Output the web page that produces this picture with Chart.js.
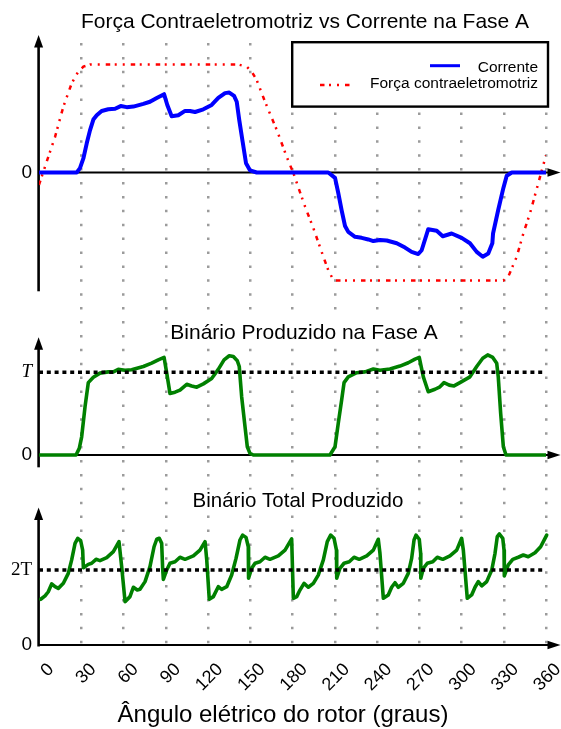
<!DOCTYPE html>
<html>
<head>
<meta charset="utf-8">
<script src="https://cdn.jsdelivr.net/npm/chart.js@4/dist/chart.umd.min.js"></script>
<style>
  html, body { margin: 0; padding: 0; background: #ffffff; }
  #wrap { position: relative; width: 561px; height: 729px; }
  canvas { display: block; }
</style>
</head>
<body>
<div id="wrap"><canvas id="c" width="561" height="729"></canvas></div>
<script>
// ---------------- data ----------------
const xTickValues = [0, 30, 60, 90, 120, 150, 180, 210, 240, 270, 300, 330, 360];

// Panel 1: phase A current (blue) and back-EMF (red), normalised units
const currentAngle = [0, 26.8, 29.1, 31.5, 33.9, 36.2, 38.6, 41.0, 44.5, 49.2, 54.0, 58.0, 62.3, 67.0, 74.1, 78.8, 83.6, 88.8, 91.1, 94.2, 98.9, 103.7, 107.2, 110.8, 116.7, 122.6, 127.3, 132.1, 135.1, 138.5, 140.4, 142.2, 144.6, 147.0, 149.8, 154.6, 205.4, 210.2, 212.5, 214.9, 217.3, 219.6, 224.4, 229.1, 233.8, 237.4, 242.1, 246.9, 254.0, 259.9, 264.6, 269.3, 271.7, 276.4, 282.4, 286.7, 293.0, 300.1, 306.0, 310.8, 315.1, 319.0, 321.9, 322.4, 326.1, 329.7, 332.1, 335.7, 360];
const currentValue = [0, 0, 0.04, 0.13, 0.27, 0.39, 0.49, 0.53, 0.57, 0.585, 0.59, 0.615, 0.605, 0.61, 0.635, 0.655, 0.69, 0.725, 0.625, 0.52, 0.53, 0.57, 0.57, 0.56, 0.585, 0.625, 0.69, 0.735, 0.74, 0.71, 0.655, 0.485, 0.285, 0.085, 0.02, 0, 0, -0.05, -0.19, -0.35, -0.495, -0.55, -0.595, -0.605, -0.62, -0.635, -0.625, -0.63, -0.655, -0.695, -0.735, -0.755, -0.72, -0.525, -0.54, -0.59, -0.565, -0.605, -0.655, -0.735, -0.78, -0.75, -0.655, -0.565, -0.345, -0.145, -0.03, 0, 0];

const emfAngle = [0, 4.3, 11.4, 17.3, 23.2, 27.7, 31.5, 36.2, 141.5, 147.5, 151.2, 154.6, 160.5, 168.8, 175.9, 180.6, 188.9, 194.8, 200.7, 205.4, 209.0, 210.9, 329.7, 333.2, 339.2, 343.9, 348.6, 354.5, 360];
const emfValue = [-0.115, 0.055, 0.33, 0.61, 0.825, 0.93, 0.98, 1, 1, 0.98, 0.93, 0.855, 0.655, 0.395, 0.145, -0.005, -0.315, -0.515, -0.735, -0.905, -0.995, -1, -1, -0.965, -0.78, -0.565, -0.38, -0.1, 0.16];

// Panel 2: torque produced by phase A (units of T)
const torqueAAngle = [0, 26.3, 28.6, 30.3, 32.7, 35.0, 38.6, 43.3, 49.2, 52.8, 56.3, 61.1, 65.8, 74.1, 80.0, 84.7, 88.8, 90.7, 93.0, 96.6, 100.1, 104.9, 108.4, 112.0, 116.7, 122.6, 127.3, 131.4, 135.1, 138.0, 140.8, 142.2, 143.9, 146.3, 147.9, 149.8, 152.2, 206.6, 210.2, 212.5, 214.9, 216.6, 219.6, 225.6, 231.5, 237.4, 242.1, 249.2, 256.3, 262.2, 267.0, 270.0, 272.9, 276.4, 281.2, 284.7, 287.6, 291.3, 294.7, 298.9, 306.0, 310.8, 315.1, 318.6, 322.2, 325.0, 326.1, 327.8, 329.7, 331.6, 360];
const torqueAValue = [0, 0, 0.08, 0.22, 0.585, 0.875, 0.94, 0.99, 1.005, 1.005, 1.035, 1.025, 1.03, 1.07, 1.11, 1.15, 1.18, 0.99, 0.745, 0.76, 0.785, 0.855, 0.835, 0.82, 0.86, 0.925, 1.035, 1.15, 1.2, 1.19, 1.14, 1.07, 0.705, 0.34, 0.1, 0.02, 0, 0, 0.1, 0.385, 0.665, 0.875, 0.945, 0.995, 1.005, 1.04, 1.025, 1.04, 1.075, 1.115, 1.16, 1.18, 0.945, 0.765, 0.795, 0.825, 0.875, 0.845, 0.835, 0.875, 0.945, 1.07, 1.17, 1.21, 1.18, 1.11, 0.945, 0.505, 0.1, 0, 0];

// Panel 3: total torque (units of T)
const totalAngle = [1.2, 4.3, 6.6, 9.0, 11.4, 13.7, 17.3, 20.8, 23.2, 25.6, 27.5, 29.6, 31.0, 31.5, 35.0, 37.4, 40.5, 43.3, 48.1, 52.8, 56.8, 58.7, 61.1, 64.6, 67.0, 69.8, 71.7, 75.3, 78.8, 81.7, 83.6, 85.4, 87.1, 87.8, 88.3, 90.7, 93.0, 96.6, 100.1, 103.7, 109.6, 114.3, 117.9, 119.1, 120.9, 123.8, 127.3, 129.7, 133.3, 136.8, 139.9, 142.7, 144.6, 147.0, 148.6, 148.8, 151.0, 153.4, 156.9, 160.5, 164.0, 169.9, 174.7, 179.4, 180.6, 183.0, 185.3, 188.2, 191.2, 194.8, 198.3, 201.9, 204.7, 207.1, 209.5, 211.2, 211.4, 213.7, 216.6, 220.3, 223.7, 227.4, 232.7, 237.4, 240.9, 242.1, 244.5, 248.0, 250.4, 252.8, 255.1, 258.7, 262.2, 264.6, 266.3, 267.7, 270.0, 271.0, 271.1, 272.9, 275.7, 279.6, 282.8, 286.7, 291.8, 296.6, 300.1, 301.3, 304.1, 307.2, 309.6, 311.9, 314.4, 317.9, 321.5, 323.8, 325.4, 326.9, 329.3, 330.2, 330.4, 333.2, 336.4, 340.3, 343.9, 347.4, 352.2, 356.2, 359.3, 360.5, 361.6, 364.0, 365.2];
const totalValue = [1.22, 1.31, 1.42, 1.63, 1.555, 1.51, 1.645, 1.91, 2.27, 2.71, 2.845, 2.78, 2.53, 2.06, 2.15, 2.18, 2.285, 2.25, 2.33, 2.49, 2.755, 2.09, 1.155, 1.29, 1.54, 1.465, 1.485, 1.69, 2.09, 2.62, 2.82, 2.845, 2.71, 2.045, 1.75, 2.0, 2.18, 2.22, 2.34, 2.285, 2.375, 2.53, 2.755, 2.27, 1.22, 1.29, 1.555, 1.485, 1.555, 1.865, 2.31, 2.8, 2.93, 2.87, 2.62, 1.78, 2.045, 2.18, 2.22, 2.34, 2.285, 2.375, 2.53, 2.83, 1.245, 1.29, 1.465, 1.645, 1.54, 1.645, 1.865, 2.27, 2.755, 2.93, 2.845, 2.53, 1.78, 2.045, 2.18, 2.22, 2.34, 2.285, 2.375, 2.53, 2.82, 2.445, 1.245, 1.335, 1.54, 1.66, 1.54, 1.645, 1.91, 2.31, 2.8, 2.93, 2.82, 2.445, 1.78, 2.045, 2.18, 2.22, 2.34, 2.285, 2.375, 2.53, 2.845, 2.53, 1.245, 1.335, 1.54, 1.69, 1.575, 1.69, 2.0, 2.445, 2.89, 2.96, 2.845, 2.53, 1.84, 2.135, 2.285, 2.34, 2.4, 2.355, 2.46, 2.62, 2.845, 2.93, 2.71, 1.91, 1.3];

// reference levels
const refAngle = [0, 360];
const refT = [1, 1];
const ref2T = [2, 2];

// y tick values and their labels
const topTicks = [0];
const topTickLabels = ['0'];
const midTicks = [0, 1];
const midTickLabels = ['0', 'T'];
const botTicks = [0, 2];
const botTickLabels = ['0', '2T'];

// texts
const titleTop = 'Força Contraeletromotriz vs Corrente na Fase A';
const titleMid = 'Binário Produzido na Fase A';
const titleBot = 'Binário Total Produzido';
const xTitle = 'Ângulo elétrico do rotor (graus)';

// ---------------- chart ----------------
const pts = (xs, ys) => xs.map((x, i) => ({ x: x, y: ys[i] }));
const SANS = "'Liberation Sans', Arial, sans-serif";
const SERIF = "'Liberation Serif', 'Times New Roman', serif";

const panelAxes = [
  { id: 'yTop', from: -1.1, to: 1.2731 },
  { id: 'yMid', from: -0.149, to: 1.423 },
  { id: 'yBot', from: -0.04, to: 3.667 }
];

const decorPlugin = {
  id: 'decor',
  beforeDatasetsDraw(chart) {
    const ctx = chart.ctx;
    const xs = chart.scales.x;
    const x0 = xs.getPixelForValue(0) - 0.4;
    const xEnd = chart.width - 0.5;
    ctx.save();
    ctx.fillStyle = '#000';
    ctx.strokeStyle = '#000';
    panelAxes.forEach(p => {
      const ys = chart.scales[p.id];
      const yz = ys.getPixelForValue(0);
      const yt = ys.getPixelForValue(p.to);
      const yb = ys.getPixelForValue(p.from);
      // vertical axis with arrow
      ctx.lineWidth = 2.6;
      ctx.beginPath(); ctx.moveTo(x0, yb); ctx.lineTo(x0, yt + 8); ctx.stroke();
      ctx.beginPath(); ctx.moveTo(x0, yt); ctx.lineTo(x0 - 4.5, yt + 12.5); ctx.lineTo(x0 + 4.5, yt + 12.5); ctx.closePath(); ctx.fill();
      // horizontal axis with arrow
      ctx.lineWidth = 2;
      ctx.beginPath(); ctx.moveTo(x0, yz); ctx.lineTo(xEnd - 8, yz); ctx.stroke();
      ctx.beginPath(); ctx.moveTo(xEnd, yz); ctx.lineTo(xEnd - 13, yz - 4.3); ctx.lineTo(xEnd - 13, yz + 4.3); ctx.closePath(); ctx.fill();
    });
    ctx.restore();
  },
  afterDraw(chart) {
    const ctx = chart.ctx;
    ctx.save();
    ctx.fillStyle = '#000';
    ctx.textBaseline = 'alphabetic';
    ctx.textAlign = 'center';
    const textWithBg = (txt, cx, base, size) => {
      ctx.font = size + 'px ' + SANS;
      const w = ctx.measureText(txt).width;
      ctx.fillStyle = '#fff';
      ctx.fillRect(cx - w / 2 - 2, base - size * 0.85, w + 4, size * 1.1);
      ctx.fillStyle = '#000';
      ctx.fillText(txt, cx, base);
    };
    ctx.font = '21px ' + SANS;
    ctx.fillText(titleTop, 305, 28);
    textWithBg(titleMid, 304, 338.5, 21);
    textWithBg(titleBot, 298, 507, 20.5);
    ctx.font = '24px ' + SANS;
    ctx.fillText(xTitle, 283, 722);

    // legend box
    const ds = chart.data.datasets;
    ctx.fillStyle = '#fff';
    ctx.fillRect(292, 42, 256, 65);
    ctx.strokeStyle = '#000';
    ctx.lineWidth = 2.4;
    ctx.strokeRect(292.2, 42.2, 255.8, 64.4);
    const rows = [
      { d: ds[0], base: 71.7, ly: 65.7, lx0: 430, lx1: 460 },
      { d: ds[1], base: 88.3, ly: 85, lx0: 320, lx1: 350 }
    ];
    rows.forEach(r => {
      ctx.save();
      ctx.strokeStyle = r.d.borderColor;
      ctx.lineWidth = r.d === ds[0] ? 3 : r.d.borderWidth;
      ctx.setLineDash(r.d.borderDash || []);
      ctx.beginPath(); ctx.moveTo(r.lx0, r.ly); ctx.lineTo(r.lx1, r.ly); ctx.stroke();
      ctx.restore();
      ctx.font = '15.5px ' + SANS;
      ctx.fillStyle = '#000';
      ctx.textAlign = 'right';
      ctx.fillText(r.d.label, 538, r.base);
    });
    ctx.restore();
  }
};

const yAxisBase = (min, max, weight, stackWeight, ticks, labels, fontFn) => ({
  type: 'linear', position: 'left', stack: 'panels', stackWeight: stackWeight, weight: weight,
  min: min, max: max,
  grid: { display: false, drawTicks: false },
  border: { display: false },
  afterBuildTicks: s => { s.ticks = ticks.map(v => ({ value: v })); },
  afterFit: s => { s.width = 39; },
  ticks: {
    padding: 7, color: '#000', font: fontFn,
    callback: v => { const i = ticks.indexOf(v); return i >= 0 ? labels[i] : ''; }
  }
});

new Chart(document.getElementById('c'), {
  type: 'line',
  data: {
    datasets: [
      { label: 'Corrente', data: pts(currentAngle, currentValue), yAxisID: 'yTop',
        borderColor: '#0000ff', borderWidth: 4, pointRadius: 0, tension: 0,
        borderJoinStyle: 'round', borderCapStyle: 'round', fill: false },
      { label: 'Força contraeletromotriz', data: pts(emfAngle, emfValue), yAxisID: 'yTop',
        borderColor: '#ff0000', borderWidth: 2.5, borderDash: [4.5, 4.5, 2, 6, 2, 6], pointRadius: 0, tension: 0, fill: false },
      { label: 'T', data: pts(refAngle, refT), yAxisID: 'yMid',
        borderColor: '#000000', borderWidth: 3.6, borderDash: [4, 3.8], pointRadius: 0, fill: false },
      { label: 'Binário fase A', data: pts(torqueAAngle, torqueAValue), yAxisID: 'yMid',
        borderColor: '#008000', borderWidth: 3.6, pointRadius: 0, tension: 0,
        borderJoinStyle: 'round', borderCapStyle: 'round', fill: false },
      { label: '2T', data: pts(refAngle, ref2T), yAxisID: 'yBot',
        borderColor: '#000000', borderWidth: 3.6, borderDash: [4, 3.8], pointRadius: 0, fill: false },
      { label: 'Binário total', data: pts(totalAngle, totalValue), yAxisID: 'yBot',
        borderColor: '#008000', borderWidth: 3.6, pointRadius: 0, tension: 0, clip: false,
        borderJoinStyle: 'round', borderCapStyle: 'round', fill: false }
    ]
  },
  options: {
    responsive: false,
    devicePixelRatio: 1,
    animation: false,
    events: [],
    layout: { padding: { top: 35, right: 15, left: 0, bottom: 0 } },
    plugins: { legend: { display: false }, title: { display: false }, tooltip: { enabled: false } },
    scales: {
      x: {
        type: 'linear', position: 'bottom', min: 0, max: 360,
        afterBuildTicks: s => { s.ticks = xTickValues.map(v => ({ value: v })); },
        afterFit: s => { s.height = 84; s.paddingLeft = 0; s.paddingRight = 0; },
        grid: {
          drawTicks: false, lineWidth: 2.5,
          color: c => (c.tick && c.tick.value === 0) ? 'rgba(0,0,0,0)' : '#9b9b9b'
        },
        border: { display: false, dash: [2.5, 11.4], dashOffset: 5.9 },
        ticks: {
          autoSkip: false, minRotation: 45, maxRotation: 45,
          labelOffset: 12, padding: 14, color: '#000',
          font: { family: SANS, size: 18 }
        }
      },
      yTop: yAxisBase(-1.1806, 1.2731, 3, 265, topTicks, topTickLabels, () => ({ family: SANS, size: 19 })),
      yMid: yAxisBase(-0.3023, 1.8742, 2, 180, midTicks, midTickLabels,
        c => (c.tick && c.tick.value === 1) ? { family: SERIF, style: 'italic', size: 19 } : { family: SANS, size: 19 }),
      yBot: yAxisBase(0, 4.4, 1, 165, botTicks, botTickLabels,
        c => (c.tick && c.tick.value === 2) ? { family: SERIF, size: 19 } : { family: SANS, size: 19 })
    }
  },
  plugins: [decorPlugin]
});
</script>
</body>
</html>
